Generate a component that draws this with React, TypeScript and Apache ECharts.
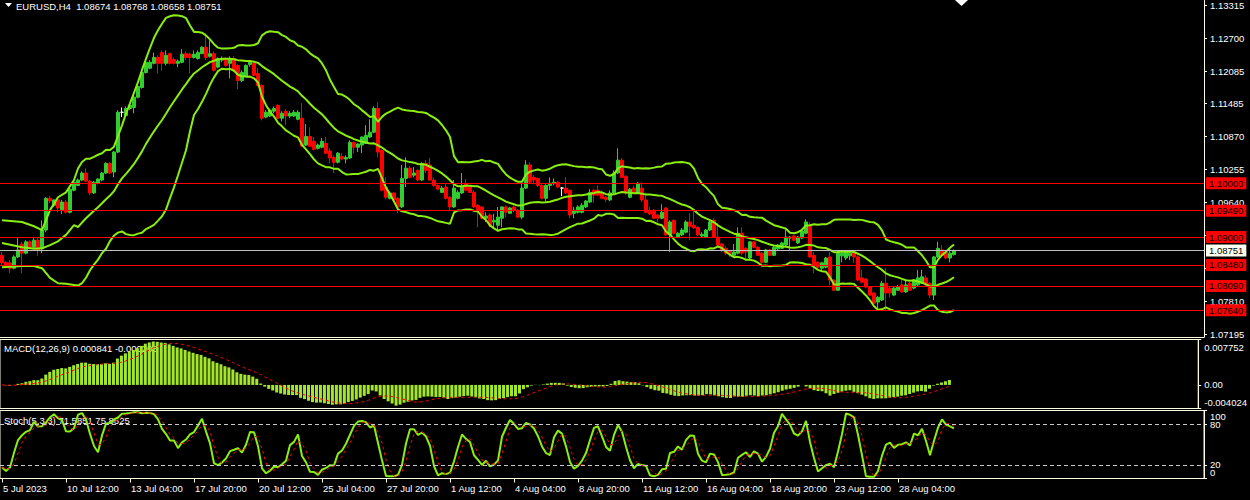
import React, { useEffect, useRef } from "react";
import * as echarts from "echarts";

const symbolTitle = "EURUSD,H4  1.08674 1.08768 1.08658 1.08751";
const macdTitle = "MACD(12,26,9) 0.000841 -0.000208";
const stochTitle = "Stoch(5,3,3) 71.5851 75.8625";

const timeLabels = [
  "5 Jul 2023", "10 Jul 12:00", "13 Jul 04:00", "17 Jul 20:00", "20 Jul 12:00",
  "25 Jul 04:00", "27 Jul 20:00", "1 Aug 12:00", "4 Aug 04:00", "8 Aug 20:00",
  "11 Aug 12:00", "16 Aug 04:00", "18 Aug 20:00", "23 Aug 12:00", "28 Aug 04:00",
];
const LABEL_STEP = 16;
const TOTAL_SLOTS = 301;

const priceTicks = [1.13315, 1.127, 1.12085, 1.11485, 1.1087, 1.10255, 1.0964, 1.09025, 1.08425, 1.0781, 1.07195];
const redLevels = [1.1, 1.0949, 1.09, 1.0848, 1.0809, 1.0764];
const bidLevel = 1.08751;
const macdTicks = [0.007752, 0, -0.004024];
const stochInnerTicks = [80, 20];
const stochEdgeTicks = [100, 0];
const stochLevels = [80, 20];

// Bollinger band values for the first bars (before a full 20-bar window exists)
const earlyBandBars = [0, 5, 8, 10, 12, 14, 16, 18];
const earlyUpper = [1.0931, 1.0928, 1.092, 1.0913, 1.095, 1.0974, 1.0983, 1.1006];
const earlyMiddle = [1.0889, 1.0881, 1.0878, 1.0879, 1.0885, 1.0892, 1.0904, 1.0922];
const earlyLower = [1.0844, 1.0846, 1.0846, 1.0842, 1.0824, 1.0814, 1.0813, 1.0811];

// [open, high, low, close]
const candles: number[][] = [
  [1.0866, 1.0872, 1.0848, 1.0852], [1.0853, 1.0855, 1.0842, 1.0844], [1.0852, 1.0857, 1.0833, 1.0842], [1.0842, 1.0866, 1.084, 1.0863],
  [1.0863, 1.09, 1.0861, 1.0876], [1.0887, 1.0891, 1.0833, 1.087], [1.087, 1.0894, 1.0868, 1.0891], [1.0891, 1.0894, 1.0878, 1.0881],
  [1.0881, 1.0898, 1.0879, 1.0894], [1.0894, 1.0898, 1.0865, 1.0876], [1.0878, 1.0931, 1.087, 1.0913], [1.0913, 1.0974, 1.0909, 1.0972],
  [1.0972, 1.0976, 1.0963, 1.0967], [1.0959, 1.097, 1.0956, 1.0969], [1.0969, 1.097, 1.0946, 1.0954], [1.095, 1.0969, 1.0943, 1.0965],
  [1.0965, 1.0969, 1.0944, 1.0946], [1.0946, 1.0995, 1.0944, 1.0989], [1.0987, 1.1004, 1.0985, 1.1002], [1.0996, 1.1009, 1.0995, 1.1006],
  [1.1006, 1.1022, 1.1004, 1.1019], [1.1019, 1.1028, 1.1002, 1.1004], [1.1004, 1.1006, 1.0978, 1.0982], [1.0982, 1.1004, 1.098, 1.1002],
  [1.1, 1.1009, 1.0998, 1.1008], [1.1006, 1.1021, 1.1004, 1.1019], [1.1019, 1.1039, 1.1017, 1.1037], [1.1037, 1.1039, 1.1017, 1.1019],
  [1.1021, 1.106, 1.1011, 1.1058], [1.1058, 1.1136, 1.1056, 1.1132], [1.1132, 1.1141, 1.1123, 1.1132], [1.1126, 1.1143, 1.1125, 1.1139],
  [1.1139, 1.1147, 1.1136, 1.1145], [1.1141, 1.1164, 1.113, 1.116], [1.116, 1.1182, 1.1158, 1.118], [1.1178, 1.121, 1.1176, 1.1206],
  [1.1206, 1.1227, 1.1204, 1.1225], [1.1214, 1.1229, 1.1212, 1.1225], [1.1223, 1.1243, 1.1221, 1.1234], [1.1234, 1.1238, 1.1204, 1.1223],
  [1.1243, 1.1247, 1.121, 1.1223], [1.1223, 1.1247, 1.1219, 1.1238], [1.1241, 1.1243, 1.1221, 1.1223], [1.123, 1.1234, 1.1221, 1.1223],
  [1.1223, 1.123, 1.1216, 1.1227], [1.1225, 1.1249, 1.1223, 1.124], [1.1241, 1.1245, 1.1229, 1.1234], [1.124, 1.1243, 1.1204, 1.1234],
  [1.1234, 1.1247, 1.1232, 1.124], [1.1232, 1.1247, 1.123, 1.1243], [1.1241, 1.1255, 1.124, 1.1253], [1.1253, 1.1279, 1.1229, 1.1234],
  [1.1236, 1.1266, 1.1234, 1.1241], [1.1241, 1.1245, 1.1208, 1.121], [1.1216, 1.1234, 1.1214, 1.1232], [1.1229, 1.1236, 1.1225, 1.1232],
  [1.1232, 1.1234, 1.1217, 1.1219], [1.1223, 1.1236, 1.1195, 1.1232], [1.1232, 1.1236, 1.1208, 1.121], [1.1219, 1.1221, 1.1175, 1.1191],
  [1.1191, 1.121, 1.1188, 1.1206], [1.1199, 1.1221, 1.1197, 1.1219], [1.1221, 1.1229, 1.1217, 1.1225], [1.1223, 1.1225, 1.1199, 1.1201],
  [1.1204, 1.1214, 1.118, 1.1182], [1.1182, 1.1184, 1.1117, 1.1121], [1.1123, 1.1136, 1.1121, 1.1132], [1.1125, 1.1139, 1.1123, 1.1136],
  [1.1134, 1.1143, 1.113, 1.1139], [1.1145, 1.1147, 1.1119, 1.1121], [1.1121, 1.1134, 1.1115, 1.113], [1.1134, 1.1138, 1.1108, 1.1125],
  [1.1125, 1.1134, 1.1121, 1.113], [1.1125, 1.1136, 1.1123, 1.1132], [1.1119, 1.1136, 1.1117, 1.1132], [1.1121, 1.1149, 1.1067, 1.1069],
  [1.1071, 1.111, 1.1069, 1.1087], [1.1087, 1.1104, 1.1067, 1.1069], [1.1078, 1.1086, 1.1061, 1.1063], [1.1065, 1.1074, 1.1063, 1.1071],
  [1.1067, 1.1084, 1.1065, 1.1078], [1.1074, 1.1086, 1.1054, 1.1056], [1.106, 1.1065, 1.1037, 1.1047], [1.1048, 1.1052, 1.1019, 1.1039],
  [1.1039, 1.1058, 1.1037, 1.1056], [1.105, 1.1056, 1.1043, 1.1045], [1.1045, 1.1052, 1.1037, 1.1048], [1.1047, 1.108, 1.1045, 1.1076],
  [1.1076, 1.1078, 1.1056, 1.1067], [1.1067, 1.1074, 1.1058, 1.1073], [1.1071, 1.1087, 1.1056, 1.1086], [1.1074, 1.1108, 1.1073, 1.1089],
  [1.1086, 1.1119, 1.1084, 1.1095], [1.1095, 1.1143, 1.1093, 1.1139], [1.1139, 1.1151, 1.1048, 1.1058], [1.1061, 1.1063, 1.0985, 1.0987],
  [1.0993, 1.1011, 1.097, 1.0974], [1.0972, 1.0985, 1.097, 1.0982], [1.0982, 1.0983, 1.0967, 1.0969], [1.0972, 1.0974, 1.0944, 1.0956],
  [1.0956, 1.1034, 1.0954, 1.1009], [1.1009, 1.1048, 1.0993, 1.1028], [1.1028, 1.1032, 1.1009, 1.1011], [1.1015, 1.103, 1.1011, 1.1019],
  [1.1024, 1.1026, 1.1004, 1.1006], [1.1006, 1.1039, 1.1004, 1.1037], [1.1037, 1.1043, 1.1019, 1.1024], [1.1034, 1.1047, 1.1004, 1.1006],
  [1.1006, 1.1011, 1.0993, 1.0996], [1.0996, 1.0998, 1.0987, 1.0989], [1.0983, 1.0995, 1.0982, 1.0991], [1.0993, 1.1, 1.097, 1.0972],
  [1.0974, 1.0976, 1.095, 1.0956], [1.0956, 1.1006, 1.0954, 1.0991], [1.0972, 1.0987, 1.097, 1.0983], [1.0982, 1.1019, 1.098, 1.0993],
  [1.1, 1.1008, 1.0985, 1.0987], [1.0993, 1.0996, 1.0982, 1.0983], [1.0983, 1.0987, 1.0954, 1.0956], [1.0959, 1.0961, 1.0918, 1.095],
  [1.0956, 1.0957, 1.0933, 1.0935], [1.0935, 1.0946, 1.0928, 1.0939], [1.0941, 1.0944, 1.0918, 1.0922], [1.0928, 1.0943, 1.0917, 1.0931],
  [1.0922, 1.0956, 1.0913, 1.0937], [1.0935, 1.0957, 1.0918, 1.0956], [1.0956, 1.0959, 1.0937, 1.0946], [1.0944, 1.0956, 1.0943, 1.0954],
  [1.0956, 1.0959, 1.0946, 1.095], [1.095, 1.0952, 1.0935, 1.0937], [1.0937, 1.1, 1.0933, 1.0991], [1.0991, 1.1043, 1.0989, 1.1034],
  [1.1034, 1.1039, 1.1, 1.1002], [1.1011, 1.1015, 1.0998, 1.1006], [1.1009, 1.1011, 1.0993, 1.0996], [1.0996, 1.0998, 1.097, 1.0972],
  [1.0972, 1.0998, 1.0965, 1.0996], [1.0996, 1.1011, 1.0987, 1.1], [1.1, 1.1009, 1.0996, 1.1002], [1.1002, 1.1004, 1.0991, 1.0993],
  [1.0991, 1.0993, 1.0976, 1.0991], [1.0991, 1.1011, 1.098, 1.0982], [1.0987, 1.0989, 1.0935, 1.0941], [1.0944, 1.0956, 1.0935, 1.095],
  [1.0946, 1.0959, 1.0944, 1.0956], [1.0946, 1.0963, 1.0944, 1.0959], [1.0956, 1.0969, 1.0954, 1.0967], [1.0965, 1.0989, 1.0963, 1.0983],
  [1.0987, 1.0989, 1.0963, 1.0978], [1.0987, 1.0996, 1.0976, 1.0978], [1.0982, 1.0987, 1.097, 1.0972], [1.0974, 1.0976, 1.0965, 1.097],
  [1.0969, 1.0987, 1.0967, 1.0982], [1.0982, 1.1024, 1.098, 1.1019], [1.1019, 1.1065, 1.1017, 1.1043], [1.1043, 1.1047, 1.1009, 1.1011],
  [1.1013, 1.1015, 1.0978, 1.0982], [1.0974, 1.0991, 1.0972, 1.0989], [1.0991, 1.0996, 1.0982, 1.0983], [1.0983, 1.1002, 1.0982, 1.1],
  [1.0991, 1.1002, 1.0965, 1.0969], [1.0969, 1.0983, 1.0944, 1.0946], [1.0948, 1.0956, 1.0941, 1.0943], [1.095, 1.0952, 1.0933, 1.0935],
  [1.0941, 1.0943, 1.0928, 1.0935], [1.0935, 1.0961, 1.0933, 1.0946], [1.0954, 1.0956, 1.0902, 1.0904], [1.0904, 1.0931, 1.0872, 1.0928],
  [1.0931, 1.0933, 1.0905, 1.0907], [1.09, 1.0909, 1.0898, 1.0907], [1.0904, 1.0917, 1.0902, 1.0913], [1.0909, 1.0931, 1.0907, 1.0928],
  [1.0928, 1.0944, 1.0894, 1.092], [1.0922, 1.095, 1.0915, 1.0917], [1.0918, 1.092, 1.0902, 1.0904], [1.0902, 1.0909, 1.09, 1.0905],
  [1.09, 1.0915, 1.0898, 1.0913], [1.0913, 1.093, 1.0911, 1.0928], [1.0931, 1.0935, 1.0898, 1.09], [1.09, 1.0926, 1.0883, 1.0885],
  [1.0887, 1.0889, 1.0872, 1.0876], [1.0879, 1.0883, 1.0866, 1.087], [1.0874, 1.0876, 1.0863, 1.0868], [1.0866, 1.0887, 1.0865, 1.0872],
  [1.087, 1.0918, 1.0868, 1.0907], [1.0907, 1.0918, 1.0866, 1.087], [1.0879, 1.0881, 1.0857, 1.0872], [1.0861, 1.0892, 1.0859, 1.0891],
  [1.0891, 1.0892, 1.0879, 1.0881], [1.0881, 1.0883, 1.0865, 1.0866], [1.087, 1.0872, 1.0844, 1.0853], [1.0853, 1.0878, 1.0852, 1.0876],
  [1.0876, 1.0878, 1.0865, 1.0866], [1.0866, 1.0883, 1.0865, 1.0881], [1.0878, 1.0887, 1.0876, 1.0885], [1.0879, 1.0891, 1.0878, 1.0889],
  [1.0885, 1.0913, 1.0883, 1.09], [1.0898, 1.0902, 1.0876, 1.09], [1.0902, 1.0904, 1.0892, 1.0894], [1.0889, 1.0902, 1.0887, 1.09],
  [1.0898, 1.0913, 1.0896, 1.0911], [1.0907, 1.0933, 1.0905, 1.0928], [1.0922, 1.0928, 1.0861, 1.0863], [1.0866, 1.0872, 1.0833, 1.0848],
  [1.0853, 1.0855, 1.0842, 1.0844], [1.0842, 1.0853, 1.0839, 1.0852], [1.0844, 1.0863, 1.0842, 1.0861], [1.0863, 1.0872, 1.0811, 1.082],
  [1.082, 1.0822, 1.08, 1.0801], [1.0801, 1.0874, 1.08, 1.0872], [1.0865, 1.0872, 1.0853, 1.087], [1.0861, 1.0876, 1.0857, 1.0872],
  [1.0865, 1.0872, 1.0857, 1.087], [1.0872, 1.0876, 1.0852, 1.0863], [1.0863, 1.0866, 1.0818, 1.082], [1.0824, 1.0839, 1.0814, 1.0816],
  [1.0822, 1.0824, 1.0805, 1.0807], [1.0807, 1.0809, 1.079, 1.0792], [1.0796, 1.0798, 1.0775, 1.0777], [1.0779, 1.079, 1.0764, 1.0788],
  [1.0783, 1.0818, 1.0781, 1.0814], [1.0814, 1.0842, 1.0764, 1.0796], [1.0805, 1.0807, 1.0788, 1.0796], [1.0792, 1.0807, 1.079, 1.0805],
  [1.0801, 1.0811, 1.08, 1.0807], [1.0811, 1.082, 1.0796, 1.0798], [1.0798, 1.082, 1.0796, 1.0811], [1.0814, 1.0816, 1.08, 1.0801],
  [1.0805, 1.0822, 1.0803, 1.082], [1.0811, 1.0839, 1.0809, 1.0824], [1.0814, 1.0839, 1.0813, 1.0826], [1.0824, 1.0829, 1.0809, 1.0811],
  [1.0814, 1.0816, 1.0787, 1.0792], [1.0792, 1.0865, 1.0783, 1.0863], [1.0863, 1.0891, 1.0861, 1.0879], [1.0876, 1.0885, 1.0865, 1.0866],
  [1.0872, 1.0874, 1.0859, 1.0861], [1.0861, 1.0879, 1.0853, 1.087], [1.08674, 1.08768, 1.08658, 1.08751],
];

const FONT = "'Liberation Sans', Arial, sans-serif";
const FRAME = "#fdfbe2";
const UP = "#32cd32";
const DOWN = "#ff0000";
const BAND = "#8aee10";
const HIST = "#a4e62a";

const N = candles.length;
const closes = candles.map((c) => c[3]);
const highs = candles.map((c) => c[1]);
const lows = candles.map((c) => c[2]);

function bollinger(period: number, k: number) {
  const up: (number | null)[] = [];
  const mid: (number | null)[] = [];
  const lo: (number | null)[] = [];
  for (let i = 0; i < N; i++) {
    if (i < period - 1) {
      up.push(null); mid.push(null); lo.push(null);
      continue;
    }
    let s = 0;
    for (let j = i - period + 1; j <= i; j++) s += closes[j];
    const m = s / period;
    let v = 0;
    for (let j = i - period + 1; j <= i; j++) v += (closes[j] - m) ** 2;
    const sd = Math.sqrt(v / period);
    up.push(m + k * sd); mid.push(m); lo.push(m - k * sd);
  }
  earlyBandBars.forEach((b, idx) => {
    up[b] = earlyUpper[idx]; mid[b] = earlyMiddle[idx]; lo[b] = earlyLower[idx];
  });
  return { up, mid, lo };
}

function ema(src: number[], n: number) {
  const a = 2 / (n + 1);
  let e = src[0];
  return src.map((v, i) => (e = i === 0 ? v : e + a * (v - e)));
}

function sma(src: number[], n: number) {
  return src.map((_, i) => {
    const s = Math.max(0, i - n + 1);
    let t = 0;
    for (let j = s; j <= i; j++) t += src[j];
    return t / (i - s + 1);
  });
}

const bb = bollinger(20, 2);
const e12 = ema(closes, 12);
const e26 = ema(closes, 26);
const macdMain = e12.map((v, i) => v - e26[i]);
const macdSignal = sma(macdMain, 9);

const stNum: number[] = [];
const stDen: number[] = [];
for (let i = 0; i < N; i++) {
  const s = Math.max(0, i - 4);
  let ll = Infinity, hh = -Infinity;
  for (let j = s; j <= i; j++) { ll = Math.min(ll, lows[j]); hh = Math.max(hh, highs[j]); }
  stNum.push(closes[i] - ll); stDen.push(hh - ll);
}
const stochMain = stNum.map((_, i) => {
  const s = Math.max(0, i - 2);
  let a = 0, b = 0;
  for (let j = s; j <= i; j++) { a += stNum[j]; b += stDen[j]; }
  return b === 0 ? 50 : (100 * a) / b;
});
const stochSignal = sma(stochMain, 3);

const slots = Array.from({ length: TOTAL_SLOTS }, (_, i) => String(i));
const isTick = (i: number) => i % LABEL_STEP === 0 && i / LABEL_STEP < timeLabels.length;
const near = (a: number, b: number) => Math.abs(a - b) < 1e-9;

const candleData = candles.map((c) => {
  const v = [c[0], c[3], c[2], c[1]];
  if (c[0] === c[3]) return { value: v, itemStyle: { color: "#ffffff", borderColor: "#ffffff", color0: "#ffffff", borderColor0: "#ffffff" } };
  return v;
});

const axisText = { color: "#ffffff", fontSize: 9.5, fontFamily: FONT };
const tightText = { ...axisText, lineHeight: 8 };

const levelLabel = (text: string, bg: string) => ({
  show: true, position: "end", distance: 2, formatter: () => text,
  backgroundColor: bg, color: "#000000", fontSize: 9.5, fontFamily: FONT, padding: [1, 3, 1, 3],
});

const option: any = {
  animation: false,
  backgroundColor: "#000000",
  grid: [
    { left: -2, top: 0, width: 1206, height: 337, show: false },
    { left: -2, top: 339.5, width: 1206, height: 69, show: true, borderColor: FRAME, borderWidth: 1, backgroundColor: "transparent" },
    { left: -2, top: 410.5, width: 1206, height: 68, show: true, borderColor: FRAME, borderWidth: 1, backgroundColor: "transparent" },
  ],
  xAxis: [
    { type: "category", gridIndex: 0, data: slots, boundaryGap: true, axisLine: { show: true, lineStyle: { color: FRAME } }, axisTick: { show: false }, axisLabel: { show: false }, splitLine: { show: false } },
    { type: "category", gridIndex: 1, data: slots, boundaryGap: true, axisLine: { show: false }, axisTick: { show: false }, axisLabel: { show: false }, splitLine: { show: false } },
    {
      type: "category", gridIndex: 2, data: slots, boundaryGap: true,
      axisLine: { show: true, lineStyle: { color: FRAME } },
      axisTick: { show: true, alignWithLabel: true, interval: (i: number) => isTick(i), length: 4, lineStyle: { color: FRAME } },
      axisLabel: {
        show: true, interval: (i: number) => isTick(i), align: "left", margin: 5, padding: [0, 0, 0, 1],
        formatter: (_v: string, i: number) => timeLabels[i / LABEL_STEP] ?? "",
        ...axisText,
      },
      splitLine: { show: false },
    },
  ],
  yAxis: [
    {
      type: "value", gridIndex: 0, position: "right", min: 1.07141, max: 1.13399, scale: true,
      splitLine: { show: false },
      axisLine: { show: true, lineStyle: { color: FRAME } },
      axisTick: { show: true, customValues: priceTicks, length: 3, lineStyle: { color: FRAME } },
      axisLabel: { customValues: priceTicks, margin: 6, formatter: (v: number) => v.toFixed(5), ...axisText },
    },
    {
      type: "value", gridIndex: 1, position: "right", min: -0.004024, max: 0.007752,
      splitLine: { show: false },
      axisLine: { show: true, lineStyle: { color: FRAME } },
      axisTick: { show: true, customValues: macdTicks, length: 3, lineStyle: { color: FRAME } },
      axisLabel: {
        customValues: macdTicks, margin: 6, ...axisText,
        formatter: (v: number) =>
          near(v, 0) ? "0.00" : v > 0 ? `{t|${v.toFixed(6)}}` : `{b|${v.toFixed(6)}}`,
        rich: {
          t: { ...axisText, padding: [16, 0, 0, 0] },
          b: { ...axisText, padding: [0, 0, 12, 0] },
        },
      },
    },
    {
      type: "value", gridIndex: 2, position: "right", min: 0, max: 100,
      splitLine: { show: false },
      axisLine: { show: true, lineStyle: { color: FRAME } },
      axisTick: { show: true, customValues: stochInnerTicks, length: 3, lineStyle: { color: FRAME } },
      axisLabel: { customValues: stochInnerTicks, margin: 6, ...tightText, formatter: (v: number) => String(Math.round(v)) },
    },
    {
      type: "value", gridIndex: 2, position: "right", min: 0, max: 100,
      splitLine: { show: false },
      axisLine: { show: false },
      axisTick: { show: true, customValues: stochEdgeTicks, length: 3, lineStyle: { color: FRAME } },
      axisLabel: {
        customValues: stochEdgeTicks, margin: 6, ...tightText,
        formatter: (v: number) => (near(v, 100) ? "{t|100}" : "{b|0}"),
        rich: {
          t: { ...tightText, padding: [12, 0, 0, 0] },
          b: { ...tightText, padding: [0, 0, 12, 0] },
        },
      },
    },
  ],
  graphic: [
    { type: "polygon", z: 0, shape: { points: [[5, 3], [12, 3], [8.5, 7]] }, style: { fill: "#ffffff" } },
    { type: "polygon", z: 0, shape: { points: [[955, 0], [968, 0], [961.5, 6]] }, style: { fill: "#ffffff" } },
    { type: "text", z: 0, x: 16, y: 6, style: { text: symbolTitle, fill: "#ffffff", fontSize: 9.5, fontFamily: FONT, verticalAlign: "middle" } },
    { type: "text", z: 0, x: 4, y: 348, style: { text: macdTitle, fill: "#ffffff", fontSize: 9.5, fontFamily: FONT, verticalAlign: "middle" } },
    { type: "text", z: 0, x: 4, y: 420, style: { text: stochTitle, fill: "#ffffff", fontSize: 9.5, fontFamily: FONT, verticalAlign: "middle" } },
  ],
  series: [
    {
      type: "line", name: "Levels", xAxisIndex: 0, yAxisIndex: 0, data: [], z: 2,
      markLine: {
        silent: true, symbol: ["none", "none"], animation: false, precision: 5,
        data: [
          ...redLevels.map((v) => ({
            yAxis: v,
            lineStyle: { color: "#ff0000", width: 1, type: "solid" },
            label: levelLabel(v.toFixed(5), "#ff0000"),
          })),
          {
            yAxis: bidLevel,
            lineStyle: { color: "#c0c0c0", width: 1, type: "solid" },
            label: levelLabel(bidLevel.toFixed(5), "#fffff0"),
          },
        ],
      },
    },
    {
      type: "candlestick", name: "EURUSD", xAxisIndex: 0, yAxisIndex: 0, data: candleData, barWidth: 3, z: 3,
      itemStyle: { color: UP, color0: DOWN, borderColor: UP, borderColor0: DOWN, borderWidth: 1 },
    },
    { type: "line", name: "BB upper", xAxisIndex: 0, yAxisIndex: 0, data: bb.up, showSymbol: false, connectNulls: true, z: 4, lineStyle: { color: BAND, width: 2 } },
    { type: "line", name: "BB middle", xAxisIndex: 0, yAxisIndex: 0, data: bb.mid, showSymbol: false, connectNulls: true, z: 4, lineStyle: { color: BAND, width: 2 } },
    { type: "line", name: "BB lower", xAxisIndex: 0, yAxisIndex: 0, data: bb.lo, showSymbol: false, connectNulls: true, z: 4, lineStyle: { color: BAND, width: 2 } },
    { type: "bar", name: "MACD", xAxisIndex: 1, yAxisIndex: 1, data: macdMain, barWidth: 3, itemStyle: { color: HIST } },
    { type: "line", name: "Signal", xAxisIndex: 1, yAxisIndex: 1, data: macdSignal, showSymbol: false, lineStyle: { color: "#ff0000", width: 1, type: [3, 3] } },
    {
      type: "line", name: "Stoch", xAxisIndex: 2, yAxisIndex: 2, data: stochMain, showSymbol: false, lineStyle: { color: BAND, width: 2 },
      markLine: {
        silent: true, symbol: ["none", "none"], label: { show: false }, precision: 2,
        data: stochLevels.map((v) => ({ yAxis: v })),
        lineStyle: { color: "#c8c8c8", width: 1, type: [4, 3] },
      },
    },
    { type: "line", name: "Stoch signal", xAxisIndex: 2, yAxisIndex: 2, data: stochSignal, showSymbol: false, lineStyle: { color: "#ff0000", width: 1, type: [3, 3] } },
  ],
};

export default function App() {
  const ref = useRef<HTMLDivElement>(null);
  useEffect(() => {
    if (!ref.current) return;
    const chart = echarts.init(ref.current, null, { renderer: "svg" });
    chart.setOption(option);
    return () => chart.dispose();
  }, []);
  return (
    <div
      ref={ref}
      style={{ position: "fixed", left: 0, top: 0, width: 1250, height: 500, background: "#000000" }}
    />
  );
}
